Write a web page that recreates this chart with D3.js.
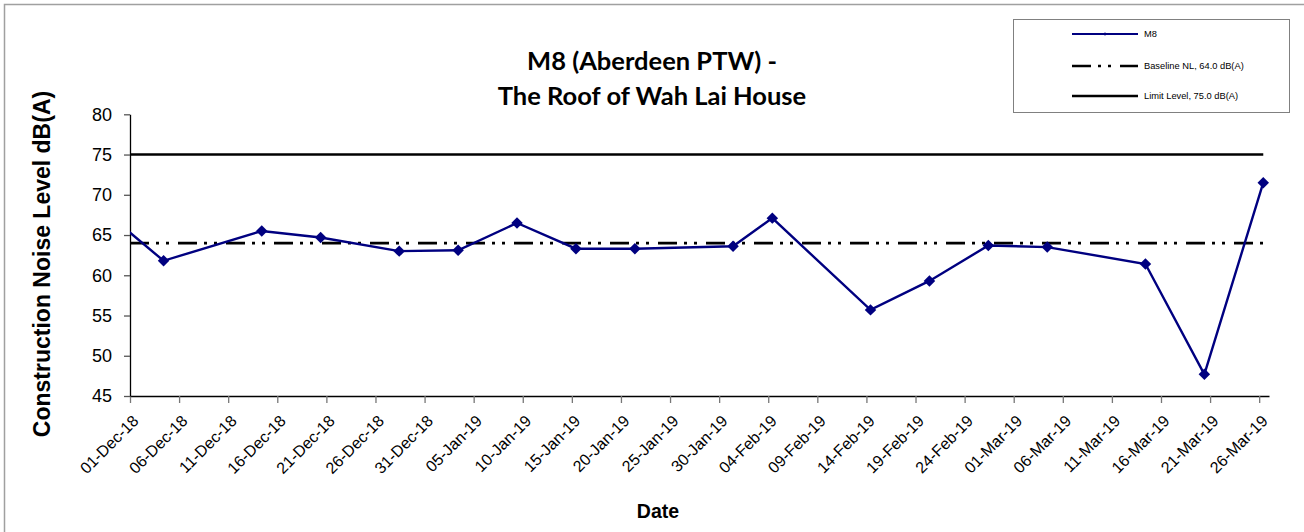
<!DOCTYPE html>
<html>
<head>
<meta charset="utf-8">
<script src="https://cdn.jsdelivr.net/npm/d3@7"></script>
<style>
  html, body { margin: 0; padding: 0; background: #fff; }
  svg { display: block; }
</style>
</head>
<body>
<svg id="chart" width="1304" height="532"></svg>
<script>
// ---- data ----
const dates = ["2018-11-30T10:00", "2018-12-04T10:00", "2018-12-14T10:00", "2018-12-20T10:00",
  "2018-12-28T10:00", "2019-01-03T10:00", "2019-01-09T10:00", "2019-01-15T10:00",
  "2019-01-21T10:00", "2019-01-31T10:00", "2019-02-04T10:00", "2019-02-14T10:00",
  "2019-02-20T10:00", "2019-02-26T10:00", "2019-03-04T10:00", "2019-03-14T10:00",
  "2019-03-20T10:00", "2019-03-26T10:00"];
const m8Values = [65.9, 61.8, 65.5, 64.7, 63.0, 63.1, 66.5, 63.3, 63.3, 63.6, 67.1, 55.7,
  59.3, 63.7, 63.5, 61.4, 47.7, 71.5];
const baselineLevel = 64.0;
const limitLevel = 75.0;
const yTicks = [45, 50, 55, 60, 65, 70, 75, 80];
const xTickStart = "2018-12-01", xTickEnd = "2019-03-26", xTickStepDays = 5;
const xDomain = ["2018-12-01", "2019-03-27"];
const titleLines = ["M8 (Aberdeen PTW) -", "The Roof of Wah Lai House"];
const legendLabels = ["M8", "Baseline NL, 64.0 dB(A)", "Limit Level, 75.0 dB(A)"];

// ---- setup ----
const parse = d3.isoParse;
const svg = d3.select("#chart");
const fmt = d3.timeFormat("%d-%b-%y");
const navy = "#000080";
const arial = "Arial, 'Liberation Sans', sans-serif";

const x = d3.scaleTime().domain(xDomain.map(d => parse(d))).range([130, 1269]);
const y = d3.scaleLinear().domain([45, 80]).range([396, 114.3]);

const pts = dates.map((d, i) => ({ date: parse(d), value: m8Values[i] }));
const xTicks = d3.timeDay.range(parse(xTickStart), d3.timeDay.offset(parse(xTickEnd), 1), xTickStepDays);

// outer border
svg.append("rect").attr("x", 4.5).attr("y", 4.5).attr("width", 1310).attr("height", 540)
  .attr("fill", "none").attr("stroke", "#a0a0a0").attr("stroke-width", 1.5);

// clip for plot area
svg.append("clipPath").attr("id", "plotclip").append("rect")
  .attr("x", x.range()[0]).attr("y", 100).attr("width", x.range()[1] - x.range()[0]).attr("height", 310);

// limit line
const lastDate = pts[pts.length - 1].date;
const lineGen = d3.line().x(d => x(d[0])).y(d => y(d[1]));
svg.append("path")
  .attr("d", lineGen([[x.domain()[0], limitLevel], [lastDate, limitLevel]]))
  .attr("stroke", "#000").attr("stroke-width", 2.6).attr("fill", "none");
// baseline
svg.append("path")
  .attr("d", lineGen([[x.domain()[0], baselineLevel], [lastDate, baselineLevel]]))
  .attr("stroke", "#000").attr("stroke-width", 2.6).attr("fill", "none")
  .attr("stroke-dasharray", "19,7,3,7,3,9");

// x axis
const xAxis = d3.axisBottom(x).tickValues(xTicks).tickFormat(fmt).tickSize(7).tickSizeOuter(0);
const gx = svg.append("g").attr("transform", `translate(0,${y(45)})`).call(xAxis);
gx.select(".domain").attr("stroke", "#000").attr("stroke-width", 1.3);
gx.selectAll(".tick line").attr("stroke", "#777").attr("stroke-width", 1.3);
gx.selectAll(".tick text")
  .attr("font-family", arial).attr("font-size", 16).attr("fill", "#000")
  .attr("text-anchor", "end").attr("dy", null).attr("y", 0).attr("x", 0)
  .attr("transform", "translate(9,26) rotate(-45)");

// y axis
const yAxis = d3.axisLeft(y).tickValues(yTicks).tickSize(6).tickSizeOuter(0).tickPadding(12);
const gy = svg.append("g").attr("transform", `translate(${x.range()[0]},0)`).call(yAxis);
gy.select(".domain").attr("stroke", "#000").attr("stroke-width", 1.3);
gy.selectAll(".tick line").attr("stroke", "#555").attr("stroke-width", 1.3);
gy.selectAll(".tick text").attr("font-family", arial)
  .attr("font-size", 18).attr("fill", "#000");

// M8 series
const series = d3.line().x(d => x(d.date)).y(d => y(d.value));
const gs = svg.append("g").attr("clip-path", "url(#plotclip)");
gs.append("path").datum(pts).attr("d", series)
  .attr("stroke", navy).attr("stroke-width", 2.4).attr("fill", "none");
const diamond = d3.symbol(d3.symbolSquare, 66);
gs.selectAll(".mk").data(pts).enter().append("path")
  .attr("d", diamond)
  .attr("transform", d => `translate(${x(d.date)},${y(d.value)}) rotate(45)`)
  .attr("fill", navy);

// title
const title = svg.append("text").attr("text-anchor", "middle")
  .attr("font-family", "Lato, 'Open Sans', sans-serif").attr("font-weight", "bold")
  .attr("font-size", 25.5).attr("fill", "#000");
title.selectAll("tspan").data(titleLines).enter().append("tspan")
  .attr("x", 652).attr("y", (d, i) => 70 + i * 35).text(d => d);

// axis titles
svg.append("text").attr("transform", "translate(50,264) rotate(-90)")
  .attr("text-anchor", "middle").attr("font-family", arial)
  .attr("font-weight", "bold").attr("font-size", 23).text("Construction Noise Level dB(A)");
svg.append("text").attr("x", 658).attr("y", 518).attr("text-anchor", "middle")
  .attr("font-family", arial)
  .attr("font-weight", "bold").attr("font-size", 19.5).text("Date");

// legend
const lg = svg.append("g");
lg.append("rect").attr("x", 1013.5).attr("y", 19.5).attr("width", 276).attr("height", 93)
  .attr("fill", "#fff").attr("stroke", "#808080").attr("stroke-width", 1);
const rows = [
  { label: legendLabels[0], color: navy, dash: null, w: 2.2, y: 34 },
  { label: legendLabels[1], color: "#000", dash: "19,7,3,7,3,9", w: 2.4, y: 66 },
  { label: legendLabels[2], color: "#000", dash: null, w: 2.4, y: 96 }
];
rows.forEach((r, i) => {
  lg.append("line").attr("x1", 1072).attr("x2", 1138).attr("y1", r.y).attr("y2", r.y)
    .attr("stroke", r.color).attr("stroke-width", r.w).attr("stroke-dasharray", r.dash);
  if (i === 0) {
    lg.append("path").attr("d", d3.symbol(d3.symbolSquare, 6)())
      .attr("transform", `translate(1105,${r.y}) rotate(45)`).attr("fill", navy);
  }
  lg.append("text").attr("x", 1144).attr("y", r.y + 3)
    .attr("font-family", arial).attr("font-size", 9.3)
    .attr("fill", "#000").text(r.label);
});
</script>
</body>
</html>
